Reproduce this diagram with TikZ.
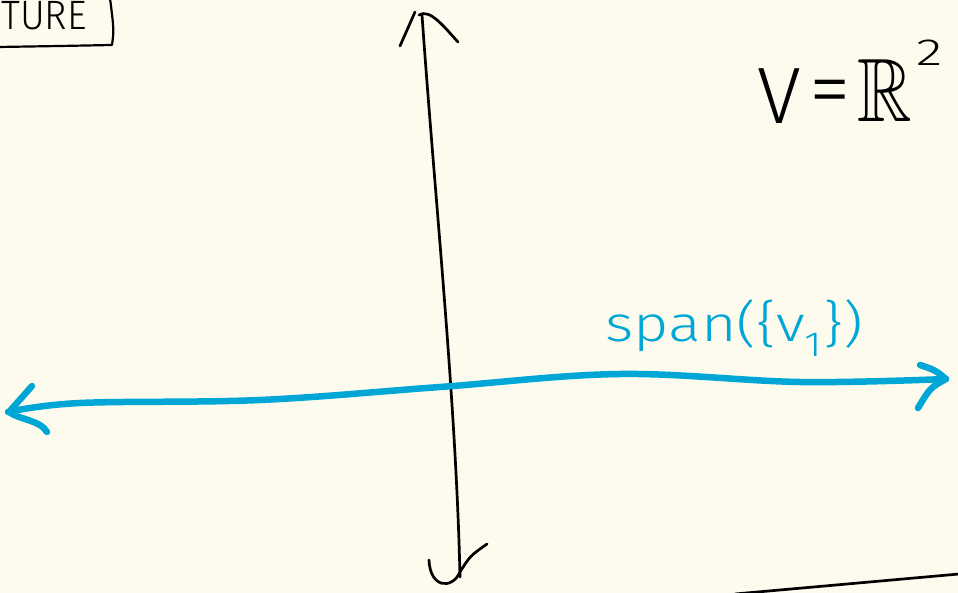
\documentclass[tikz,border=0pt]{standalone}
\usepackage{fontspec}
\usepackage{amssymb}
\setmainfont{Fira Sans Light}
\definecolor{paper}{RGB}{253,251,237}
\definecolor{inkblue}{RGB}{0,166,214}
\begin{document}
\begin{tikzpicture}[x=1pt,y=-1pt,
  ink/.style={line width=2.7pt, line cap=round, line join=round},
  thinink/.style={line width=2.2pt, line cap=round, line join=round},
  blueink/.style={inkblue, line width=6.5pt, line cap=round, line join=round}]
\useasboundingbox (0,0) rectangle (958,593);
\fill[paper] (0,0) rectangle (958,593);
% title box (cut off)
\coordinate (boxbl) at (-2,47);
\coordinate (boxbr) at (112,45);
\coordinate (boxtr) at (110,-2);
\draw[thinink] (boxbl) -- (60,46) -- (boxbr) .. controls (114,30) .. (boxtr);
\node[font=\fontsize{38}{38}\selectfont, anchor=west, inner sep=0pt] (ture) at (1,16) {\scalebox{1.0}[1.08]{TURE}};
% vertical axis
\coordinate (axtop) at (422,15);
\coordinate (axbot) at (460,577);
\draw[ink] (axtop) .. controls (435,200) and (456,400) .. (axbot);
\coordinate (ta) at (400,46);
\coordinate (tb) at (415,12);
\draw[ink] (ta) -- (tb);
\coordinate (tc) at (419,15);
\coordinate (td) at (458,42);
\draw[ink] (tc) .. controls (430,8) and (445,28) .. (td);
\coordinate (ba) at (429,560);
\coordinate (bb) at (487,544);
\draw[ink] (ba) .. controls (430,588) and (452,590) .. (460,572) .. controls (470,556) .. (bb);
% blue line
\draw[blueink] plot[smooth, tension=0.6] coordinates {(8,412) (80,403) (260,400) (440,387) (620,374) (800,382) (946,379)};
\coordinate (la) at (32,386);
\coordinate (lt) at (9,412);
\coordinate (lb) at (47,432);
\draw[blueink] (la) -- (lt) .. controls (20,420) and (40,420) .. (lb);
\coordinate (ra) at (920,365);
\coordinate (rt) at (946,379);
\coordinate (rb) at (918,408);
\draw[blueink] (ra) .. controls (935,370) .. (rt) .. controls (930,388) .. (rb);
\node[inkblue, font=\fontsize{50}{50}\selectfont, inner sep=0pt] (span) at (734,328) {\scalebox{1.22}[1]{span(\{v\textsubscript{1}\})}};
% V = R^2
\node[font=\fontsize{80}{80}\selectfont, inner sep=0pt, anchor=base] (vv) at (779,124) {V};
\node[font=\fontsize{60}{60}\selectfont, inner sep=0pt] (eq) at (830,99) {\scalebox{1.4}[1.4]{=}};
\node[font=\fontsize{72}{72}\selectfont, inner sep=0pt, anchor=base] (rr) at (885,122) {\scalebox{1.05}[1.25]{$\mathbb{R}$}};
\node[font=\fontsize{42}{42}\selectfont, inner sep=0pt] (sq) at (930,53) {\scalebox{1.3}[0.9]{2}};
% bottom right line
\coordinate (bla) at (735,594);
\coordinate (blb) at (959,574);
\draw[ink] (bla) -- (blb);
\end{tikzpicture}
\end{document}
